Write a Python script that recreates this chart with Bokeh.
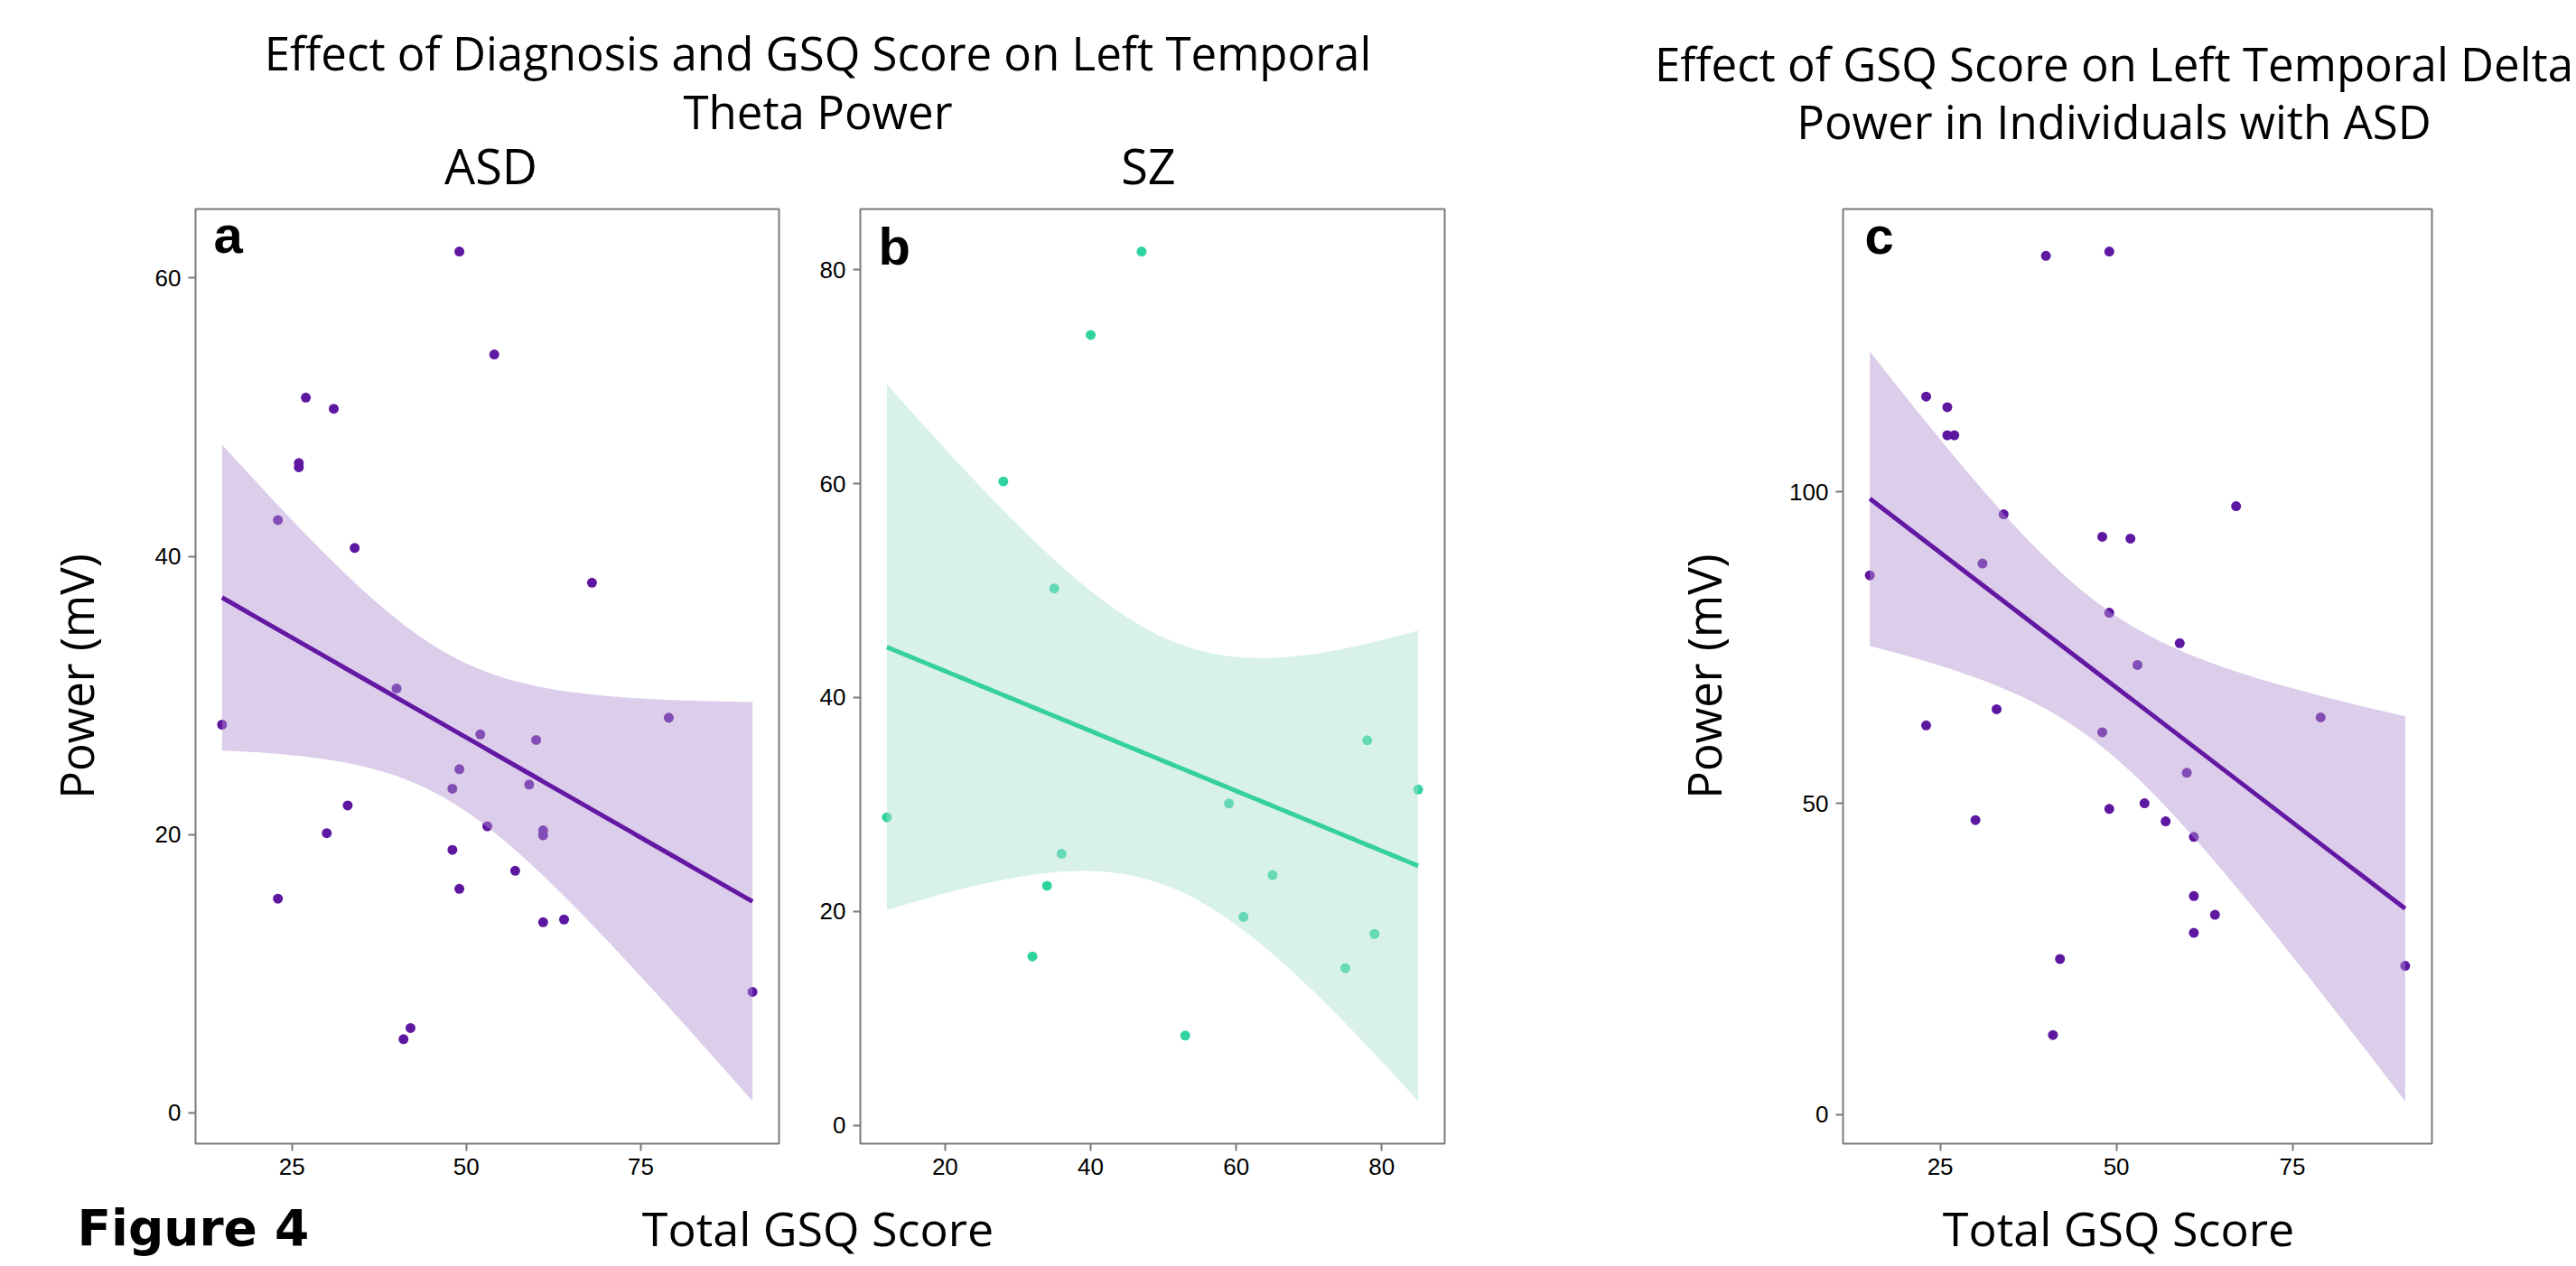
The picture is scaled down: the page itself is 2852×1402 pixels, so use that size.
import numpy as np
from bokeh.plotting import figure
from bokeh.layouts import row, column
from bokeh.models import Range1d, FixedTicker
from bokeh.core.properties import value
from bokeh.embed import file_html
from bokeh.resources import INLINE

# ---------------- data ----------------
# Panel a: ASD, left temporal theta power
asd_theta_gsq = [49, 54, 27, 31, 26, 26, 23, 34, 68, 40, 15, 79, 52, 60, 49, 48,
                 59, 33, 30, 53, 61, 61, 48, 57, 49, 23, 61, 64, 91, 42, 41]
asd_theta_power = [61.9, 54.5, 51.4, 50.6, 46.7, 46.4, 42.6, 40.6, 38.1, 30.5, 27.9,
                   28.4, 27.2, 26.8, 24.7, 23.3, 23.6, 22.1, 20.1, 20.6, 20.3, 19.95,
                   18.9, 17.4, 16.1, 15.4, 13.7, 13.9, 8.7, 6.1, 5.3]
# Panel b: SZ, left temporal theta power
sz_theta_gsq = [47, 40, 28, 35, 78, 85, 59, 12, 36, 65, 34, 61, 79, 32, 75, 53]
sz_theta_power = [81.7, 73.9, 60.2, 50.2, 36.0, 31.4, 30.1, 28.8, 25.4, 23.4, 22.4,
                  19.5, 17.9, 15.8, 14.7, 8.4]
# Panel c: ASD, left temporal delta power
asd_delta_gsq = [40, 49, 23, 26, 26, 27, 67, 34, 48, 52, 31, 15, 49, 59, 53, 79,
                 33, 23, 48, 60, 49, 54, 30, 57, 61, 61, 64, 61, 42, 91, 41]
asd_delta_power = [137.9, 138.6, 115.3, 113.6, 109.1, 109.1, 97.7, 96.4, 92.8, 92.5,
                   88.5, 86.6, 80.6, 75.7, 72.2, 63.8, 65.1, 62.5, 61.4, 54.9, 49.1,
                   50.0, 47.3, 47.1, 44.6, 35.1, 32.1, 29.2, 25.0, 23.9, 12.8]

xticks_asd = [25, 50, 75]
xticks_sz = [20, 40, 60, 80]
yticks_a = [0, 20, 40, 60]
yticks_b = [0, 20, 40, 60, 80]
yticks_c = [0, 50, 100]

title_ab = ["Effect of Diagnosis and GSQ Score on Left Temporal", "Theta Power"]
title_c = ["Effect of GSQ Score on Left Temporal Delta", "Power in Individuals with ASD"]
facets = ["ASD", "SZ"]
xlabel = "Total GSQ Score"
ylabel = "Power (mV)"
fig_label = "Figure 4"

# ---------------- styling ----------------
PURPLE_PT = "#5E17A0"
PURPLE_LN = "#6318A3"
PURPLE_FILL = (177, 144, 208)
GREEN_PT = "#2FD3A0"
GREEN_LN = "#36CF9F"
GREEN_FILL = (168, 224, 206)
FRAME = "#7a7a7a"
MAIN_FONT = "Open Sans"
TICK_FONT = "Liberation Sans"
BASE_K = 0.47  # rendered baseline correction (fraction of font size)


def tq975(df):
    z = 1.959963985
    g1 = (z**3 + z) / 4
    g2 = (5 * z**5 + 16 * z**3 + 3 * z) / 96
    g3 = (3 * z**7 + 19 * z**5 + 17 * z**3 - 15 * z) / 384
    g4 = (79 * z**9 + 776 * z**7 + 1482 * z**5 - 1920 * z**3 - 945 * z) / 92160
    return z + g1 / df + g2 / df**2 + g3 / df**3 + g4 / df**4


def lm_ci(x, y, n=80):
    x = np.asarray(x, float)
    y = np.asarray(y, float)
    xb, yb = x.mean(), y.mean()
    sxx = ((x - xb) ** 2).sum()
    b1 = ((x - xb) * (y - yb)).sum() / sxx
    b0 = yb - b1 * xb
    res = y - (b0 + b1 * x)
    s = np.sqrt((res**2).sum() / (len(x) - 2))
    xg = np.linspace(x.min(), x.max(), n)
    fit = b0 + b1 * xg
    se = s * np.sqrt(1 / len(x) + (xg - xb) ** 2 / sxx)
    t = tq975(len(x) - 2)
    return xg, fit, fit - t * se, fit + t * se


def make_panel(xs, ys, width, height, mbl, mbr, mbt, mbb, xticks, yticks,
               pcol, fcol, lcol, letter, ldx, ldy, show_ylabel, ylab_standoff):
    xg, fit, lo, hi = lm_ci(xs, ys)
    xmin, xmax = min(xs), max(xs)
    xpad = 0.05 * (xmax - xmin)
    ymin = min(min(ys), lo.min())
    ymax = max(max(ys), hi.max())
    ypad = 0.05 * (ymax - ymin)
    x0, x1 = xmin - xpad, xmax + xpad
    y0, y1 = ymin - ypad, ymax + ypad
    p = figure(width=width, height=height, output_backend="svg", toolbar_location=None,
               x_range=Range1d(x0, x1), y_range=Range1d(y0, y1),
               min_border_left=mbl, min_border_right=mbr,
               min_border_top=mbt, min_border_bottom=mbb)
    p.background_fill_color = "white"
    p.border_fill_color = "white"
    p.outline_line_color = FRAME
    p.outline_line_width = 2
    p.grid.visible = False

    for ax, ticks in ((p.xaxis, xticks), (p.yaxis, yticks)):
        ax.ticker = FixedTicker(ticks=ticks)
        ax.axis_line_color = None
        ax.major_tick_line_color = FRAME
        ax.major_tick_line_width = 2
        ax.major_tick_out = 8
        ax.major_tick_in = 0
        ax.minor_tick_line_color = None
        ax.major_label_text_font = TICK_FONT
        ax.major_label_text_font_size = "26px"
        ax.major_label_text_color = "black"
    p.xaxis.major_label_standoff = 8
    p.yaxis.major_label_standoff = 8
    if show_ylabel:
        p.yaxis.axis_label = ylabel
        p.yaxis.axis_label_text_font = MAIN_FONT
        p.yaxis.axis_label_text_font_size = "51px"
        p.yaxis.axis_label_text_font_style = "normal"
        p.yaxis.axis_label_text_color = "black"
        p.yaxis.axis_label_standoff = ylab_standoff

    # points first, ribbon over them, fit line on top
    p.scatter(xs, ys, size=11, fill_color=pcol, line_color=None)
    p.varea(x=xg, y1=lo, y2=hi, fill_color=fcol, fill_alpha=0.45)
    p.line(xg, fit, line_color=lcol, line_width=5)

    fw = width - mbl - mbr
    fh = height - mbt - mbb
    size = 58
    lx = x0 + ldx * (x1 - x0) / fw
    ly = y1 - (ldy - BASE_K * size) * (y1 - y0) / fh
    p.text(x=[lx], y=[ly], text=[letter], text_font=value("Liberation Sans"),
           text_font_size=f"{size}px", text_font_style="bold", text_color="black",
           text_align="left", text_baseline="alphabetic")
    return p


TOP_H = 228
ROW_H = 1093
BOT_H = 1402 - TOP_H - ROW_H   # 81, strip starts at y = 1321

pa = make_panel(asd_theta_gsq, asd_theta_power, 880, ROW_H, 216, 18, 3, 45,
                xticks_asd, yticks_a, PURPLE_PT, PURPLE_FILL, PURPLE_LN,
                "a", 20, 56, True, 50)
pb = make_panel(sz_theta_gsq, sz_theta_power, 740, ROW_H, 72, 21, 3, 45,
                xticks_sz, yticks_b, GREEN_PT, GREEN_FILL, GREEN_LN,
                "b", 20, 69, False, 0)
pc = make_panel(asd_delta_gsq, asd_delta_power, 1232, ROW_H, 420, 160, 0, 55,
                xticks_asd, yticks_c, PURPLE_PT, PURPLE_FILL, PURPLE_LN,
                "c", 24, 56, True, 57)


def strip(h):
    s = figure(width=2852, height=h, output_backend="svg", toolbar_location=None,
               x_range=Range1d(0, 2852), y_range=Range1d(h, 0),
               x_axis_location=None, y_axis_location=None,
               min_border_left=0, min_border_right=0, min_border_top=0, min_border_bottom=0)
    s.outline_line_color = None
    s.grid.visible = False
    s.background_fill_color = "white"
    s.border_fill_color = "white"
    return s


def put_text(s, xs, baselines, texts, size, align="center", style="normal", font=MAIN_FONT):
    s.text(x=xs, y=[b - BASE_K * size for b in baselines], text=texts,
           text_font=value(font), text_font_size=f"{size}px",
           text_font_style=style, text_align=align, text_baseline="alphabetic",
           text_color="black")


top = strip(TOP_H)
put_text(top, [905, 905], [81, 146], title_ab, 51)
put_text(top, [2340, 2340], [93, 157], title_c, 51)
put_text(top, [543, 1271], [208, 208], facets, 54)

bot = strip(BOT_H)
put_text(bot, [905, 2345], [62, 62], [xlabel, xlabel], 52)
put_text(bot, [85], [64], [fig_label], 55, align="left", style="bold", font="DejaVu Sans")

layout = column(top, row(pa, pb, pc), bot)
open("out.html", "w").write(file_html(layout, INLINE))
